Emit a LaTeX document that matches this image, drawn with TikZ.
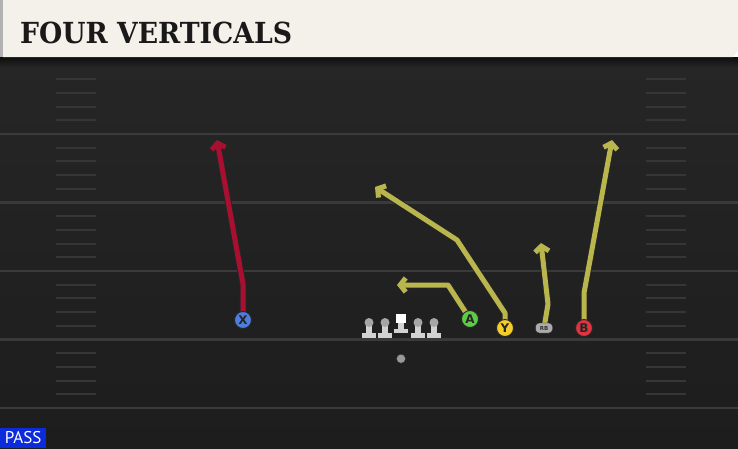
\documentclass[tikz,border=0pt]{standalone}
\usepackage{fontspec}
\setmainfont{DejaVu Sans}
\newfontfamily\titlefont{DejaVu Serif}
\newfontfamily\tagfont{PT Sans}
\usetikzlibrary{arrows.meta, positioning, calc}

\definecolor{fieldtop}{HTML}{262626}
\definecolor{fieldbot}{HTML}{1D1D1D}
\definecolor{yardline}{HTML}{3A3A3A}
\definecolor{hashmark}{HTML}{363636}
\definecolor{barcream}{HTML}{F4F1EA}
\definecolor{routeyellow}{HTML}{B8B64C}
\definecolor{routered}{HTML}{A80F30}
\definecolor{xblue}{HTML}{4E7DDE}
\definecolor{agreen}{HTML}{5CCB45}
\definecolor{yyellow}{HTML}{F3CD2A}
\definecolor{bred}{HTML}{E0323F}
\definecolor{rbgray}{HTML}{ABABAB}
\definecolor{linegray}{HTML}{D2D2D2}
\definecolor{passblue}{HTML}{0B2BDD}

\pgfdeclarelayer{field}
\pgfdeclarelayer{routes}
\pgfsetlayers{field,routes,main}

\begin{document}
\begin{tikzpicture}[x=1pt, y=-1pt, node distance=16pt, on grid,
    player/.style={circle, draw=black!85, line width=0.9pt, fill=#1, minimum size=17pt, inner sep=0pt,
      font=\bfseries\fontsize{12}{12}\selectfont, text=black!85},
    rbtag/.style={draw=black!85, fill=rbgray, rounded corners=3.5pt, minimum width=17pt, minimum height=10pt,
      inner sep=0pt, font=\bfseries\fontsize{5.5}{5.5}\selectfont, text=black!80},
    route/.style={draw=#1, line width=5pt, line join=round,
      -{Straight Barb[length=5.5pt, width=14pt]},
      preaction={draw=black!85, line width=6.8pt, -{Straight Barb[length=5.5pt, width=14pt]}}},
    lineman/.style={coordinate},
    qbdot/.style={circle, draw=black!80, fill=gray!80, minimum size=9pt, inner sep=0pt},
    tagbox/.style={fill=passblue, text=white, minimum width=46pt, minimum height=20pt, inner sep=0pt,
      font=\tagfont\fontsize{17}{17}\selectfont}]
  \useasboundingbox (0,0) rectangle (738,448);

  % field
  \begin{pgfonlayer}{field}
  \shade[top color=fieldtop, bottom color=fieldbot] (0,57) rectangle (738,448);
  \foreach \k in {1,...,5}
    \draw[yardline, line width=2.2pt] (0,65.5+68.5*\k) -- (738,65.5+68.5*\k);
  \foreach \k in {0,...,4}
    \foreach \j in {1,...,4} {
      \draw[hashmark, line width=2pt] (56,65.5+68.5*\k+13.7*\j) -- (96,65.5+68.5*\k+13.7*\j);
      \draw[hashmark, line width=2pt] (646,65.5+68.5*\k+13.7*\j) -- (686,65.5+68.5*\k+13.7*\j);
    }
  % title bar
  \shade[top color=black!95, bottom color=fieldtop] (0,57) rectangle (738,67);
  \fill[gray!60] (0,0) rectangle (3,57);
  \fill[barcream] (3,0) -- (738,0) -- (738,51) -- (733,57) -- (3,57) -- cycle;
  \end{pgfonlayer}
  \node[anchor=base west, inner sep=0pt, xscale=0.92, text=black!90,
    font=\titlefont\bfseries\fontsize{29}{29}\selectfont] (title) at (20,43) {FOUR VERTICALS};

  % formation
  \node[lineman] (C) at (401,326) {};
  \node[lineman] (LG) [left=16pt of C] {};
  \node[lineman] (LT) [left=16pt of LG] {};
  \node[lineman] (RG) [right=17pt of C] {};
  \node[lineman] (RT) [right=16pt of RG] {};
  \node[qbdot] (QB) [below=28pt of C] {};

  \node[player=xblue] (X) at (243,320) {X};
  \node[player=agreen] (A) at (470,319) {A};
  \node[player=yyellow] (Y) at (505,328) {Y};
  \node[rbtag] (RB) at (544,328) {RB};
  \node[player=bred] (B) at (584,328) {B};

  \node[coordinate] (Xbrk) at (243,284) {};
  \node[coordinate] (Xend) at (217,140) {};
  \node[coordinate] (Abrk) at (448,285) {};
  \node[coordinate] (Aend) at (397,285) {};
  \node[coordinate] (Ybrk) at (505,313) {};
  \node[coordinate] (Ybend) at (457,240) {};
  \node[coordinate] (Yend) at (375,187) {};
  \node[coordinate] (RBbrk) at (548,304) {};
  \node[coordinate] (RBend) at (541,243) {};
  \node[coordinate] (Bbrk) at (584,293) {};
  \node[coordinate] (Bend) at (612,140) {};

  % routes
  \begin{pgfonlayer}{routes}
  \draw[route=routered] (X.center) -- (Xbrk) -- (Xend);
  \draw[route=routeyellow] (A.center) -- (Abrk) -- (Aend);
  \draw[route=routeyellow] (Y.center) -- (Ybrk) -- (Ybend) -- (Yend);
  \draw[route=routeyellow] (RB.center) -- (RBbrk) -- (RBend);
  \draw[route=routeyellow] (B.center) -- (Bbrk) -- (Bend);
  \end{pgfonlayer}

  % linemen
  \foreach \p in {LT,LG,RG,RT} {
    \fill[linegray] ($(\p)+(-2.8,-3)$) rectangle ($(\p)+(2.8,8)$);
    \fill[linegray] ($(\p)+(-7,7)$) rectangle ($(\p)+(7,12)$);
    \fill[gray!70] ($(\p)+(0,-3.5)$) circle (4.5pt);
  }
  \fill[white] ($(C)+(-5,-12)$) rectangle ($(C)+(5,-3)$);
  \fill[linegray] ($(C)+(-2.8,-3)$) rectangle ($(C)+(2.8,4)$);
  \fill[linegray] ($(C)+(-7,2.5)$) rectangle ($(C)+(7,7)$);

  \node[tagbox, anchor=south west] (play) at (0,448) {PASS};
\end{tikzpicture}
\end{document}
